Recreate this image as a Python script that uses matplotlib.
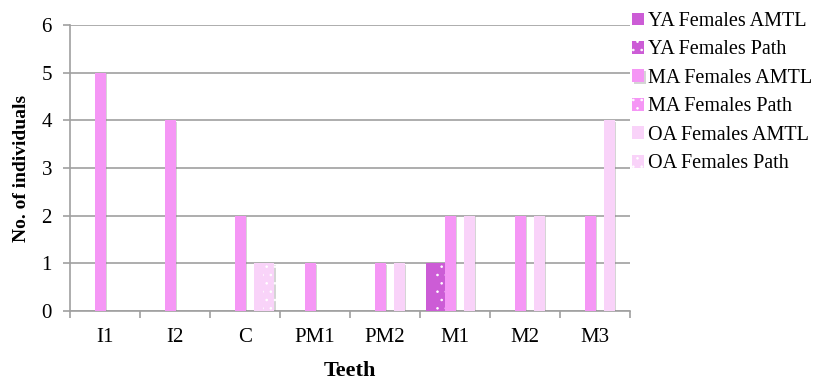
import numpy as np
import matplotlib
matplotlib.use("Agg")
import matplotlib.pyplot as plt
import matplotlib.patheffects as pe

plt.rcParams['font.family'] = ['Liberation Serif', 'DejaVu Serif']
plt.rcParams['hatch.linewidth'] = 0.6

teeth = ['I1', 'I2', 'C', 'PM1', 'PM2', 'M1', 'M2', 'M3']
series = ['YA Females AMTL', 'YA Females Path',
          'MA Females AMTL', 'MA Females Path',
          'OA Females AMTL', 'OA Females Path']

ya_amtl = [0, 0, 0, 0, 0, 1, 0, 0]
ya_path = [0, 0, 0, 0, 0, 1, 0, 0]
ma_amtl = [5, 4, 2, 1, 1, 2, 2, 2]
ma_path = [0, 0, 0, 0, 0, 0, 0, 0]
oa_amtl = [0, 0, 1, 0, 1, 2, 2, 4]
oa_path = [0, 0, 1, 0, 0, 0, 0, 0]

values = [ya_amtl, ya_path, ma_amtl, ma_path, oa_amtl, oa_path]
colors = ['#CC5CD6', '#CC5CD6', '#F596F5', '#F596F5', '#F9D3F9', '#F9D3F9']
hatches = [None, '..', None, '..', None, '..']

fig = plt.figure(figsize=(8.18, 3.81), dpi=100)
ax = fig.add_axes([70/818, 1 - 311/381, 560/818, 286/381])

x = np.arange(len(teeth))
step = 0.136
width = 0.158
shadow = [pe.SimplePatchShadow(offset=(1.2, -1.2), shadow_rgbFace='#888888', alpha=0.35), pe.Normal()]

handles = []
for i, (vals, c, h) in enumerate(zip(values, colors, hatches)):
    bars = ax.bar(x + (i - 2.5) * step, vals, width, color=c,
                  edgecolor='white' if h else c, linewidth=0, hatch=h,
                  label=series[i], zorder=3)
    for b in bars:
        if b.get_height() > 0:
            b.set_path_effects(shadow)
    handles.append(bars)

ax.set_xlim(-0.5, len(teeth) - 0.5)
ax.set_ylim(0, 6)
ax.set_yticks(range(7))
ax.set_xticks(x)
ax.set_xticklabels(teeth)
ax.set_xticks(np.arange(-0.5, len(teeth)), minor=True)
ax.tick_params(axis='x', which='major', length=0, pad=12, labelsize=15)
ax.tick_params(axis='x', which='minor', length=5, color='#A0A0A0', width=1.2)
ax.tick_params(axis='y', length=5, color='#A0A0A0', width=1.2, labelsize=15, pad=8)

ax.grid(axis='y', color='#A0A0A0', linewidth=1.2, zorder=0)
ax.set_axisbelow(True)
for s in ['top', 'right']:
    ax.spines[s].set_visible(False)
for s in ['left', 'bottom']:
    ax.spines[s].set_color('#A0A0A0')
    ax.spines[s].set_linewidth(1.2)

ax.set_xlabel('Teeth', fontsize=16, fontweight='bold', labelpad=10)
ax.set_ylabel('No. of individuals', fontsize=14, fontweight='bold', labelpad=8)

fig.legend(handles=handles, labels=series, loc='upper left',
           bbox_to_anchor=(632/818, 1 - 12/381), frameon=False,
           fontsize=14.5, handlelength=0.6, handleheight=0.6,
           handletextpad=0.2, labelspacing=0.47, borderaxespad=0, borderpad=0)

fig.savefig('out.png', dpi=100)
